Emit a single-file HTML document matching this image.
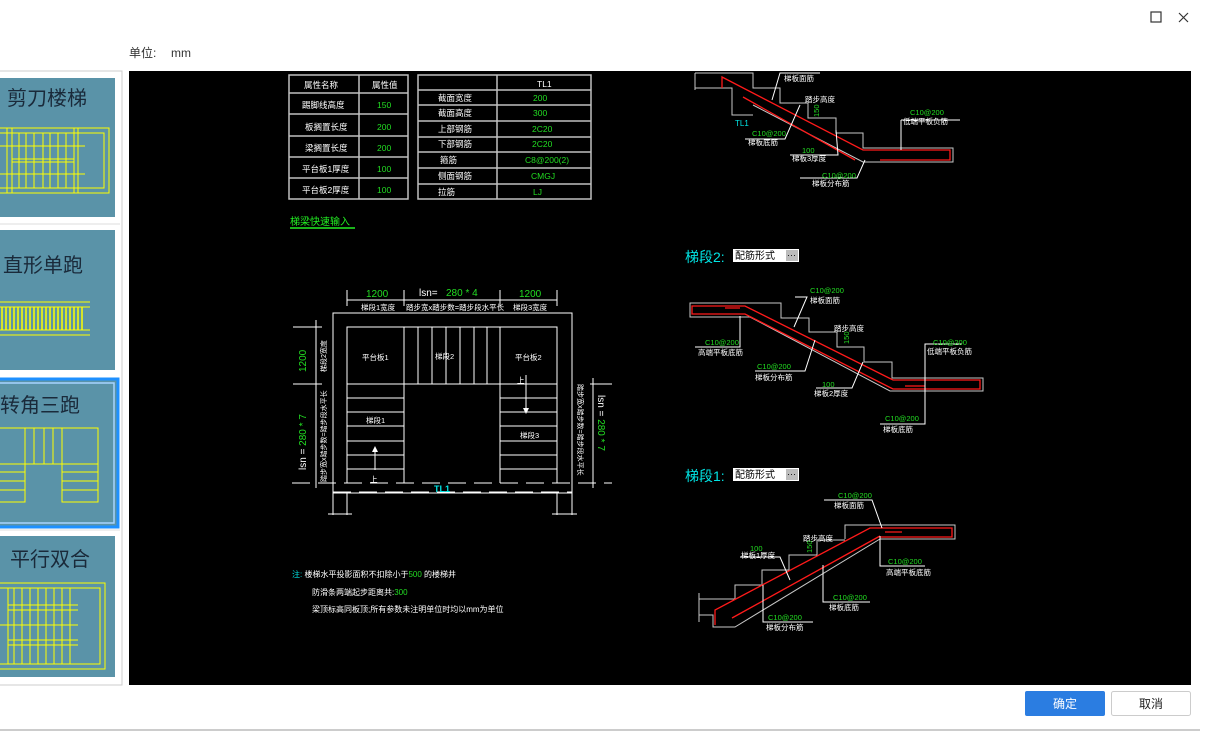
<!DOCTYPE html>
<html><head><meta charset="utf-8">
<style>
html,body{margin:0;padding:0;background:#fff;width:1207px;height:731px;overflow:hidden;font-family:"Liberation Sans","Noto Sans CJK SC",sans-serif;}
svg text{font-family:"Liberation Sans","Noto Sans CJK SC",sans-serif;}
</style></head><body>
<svg width="1207" height="731" viewBox="0 0 1207 731" xmlns="http://www.w3.org/2000/svg">
<!-- top bar -->
<rect x="1151" y="12" width="10" height="10" fill="none" stroke="#333" stroke-width="1.2"/>
<path d="M1179 13 L1188 22 M1188 13 L1179 22" stroke="#333" stroke-width="1.2"/>
<text x="129" y="57" font-size="12" fill="#333">单位:</text>
<text x="171" y="57" font-size="12" fill="#333">mm</text>

<!-- left panel -->
<rect x="-2" y="71" width="124" height="614" fill="#fff" stroke="#ccc"/>
<line x1="0" y1="224" x2="120" y2="224" stroke="#ddd"/>
<line x1="0" y1="530" x2="120" y2="530" stroke="#ddd"/>
<rect x="0" y="78" width="115" height="139" fill="#5a93a8"/>
<text x="7" y="105" font-size="20" fill="#1a2a3a">剪刀楼梯</text>
<g stroke="#ffff00" stroke-width="1" fill="none">
<rect x="-5" y="128" width="114" height="65"/><rect x="-5" y="133" width="109" height="55"/>
<line x1="7" y1="128" x2="7" y2="193"/><line x1="12" y1="128" x2="12" y2="193"/>
<line x1="74" y1="128" x2="74" y2="193"/><line x1="78" y1="128" x2="78" y2="193"/>
<line x1="12" y1="159" x2="74" y2="159"/><line x1="12" y1="162" x2="74" y2="162"/>
<path d="M19 133V188M26 133V188M34 133V188M43 133V188M50 133V188M58 133V188M66 133V188"/>
<line x1="0" y1="146" x2="85" y2="146"/><line x1="0" y1="174" x2="85" y2="174"/>
</g>
<rect x="0" y="230" width="115" height="140" fill="#5a93a8"/>
<text x="3" y="272" font-size="20" fill="#1a2a3a">直形单跑</text>
<g stroke="#ffff00" stroke-width="1"><line x1="0" y1="302" x2="90" y2="302"/><line x1="0" y1="307" x2="90" y2="307"/><line x1="0" y1="330" x2="90" y2="330"/><line x1="0" y1="335" x2="90" y2="335"/></g>
<g stroke="#ffff00" stroke-width="1.5">
<path d="M2 307V330M6 307V330M10 307V330M14 307V330M18 307V330M22 307V330M26 307V330M30 307V330M34 307V330M38 307V330M42 307V330M46 307V330M50 307V330M54 307V330M58 307V330M62 307V330M66 307V330M70 307V330M74 307V330M78 307V330M82 307V330"/></g>
<rect x="-2" y="379" width="120" height="148" fill="#5a93a8" stroke="#1e90ff" stroke-width="3"/>
<rect x="-2" y="383" width="116" height="140" fill="none" stroke="#a8d4ff" stroke-width="1.5"/>
<text x="0" y="412" font-size="20" fill="#1a2a3a">转角三跑</text>
<g stroke="#ffff00" stroke-width="1" fill="none">
<path d="M0 428H98V502H62V464H25V502H0"/>
<path d="M25 428V464M34 428V464M44 428V464M53 428V464M62 428V464"/>
<path d="M0 464H25M0 472H25M0 481H25M0 490H25M62 464H98M62 472H98M62 481H98M62 490H98"/>
</g>
<rect x="0" y="536" width="115" height="141" fill="#5a93a8"/>
<text x="10" y="566" font-size="20" fill="#1a2a3a">平行双合</text>
<g stroke="#ffff00" stroke-width="1" fill="none">
<rect x="-5" y="583" width="110" height="86"/><rect x="-5" y="588" width="105" height="76"/>
<path d="M8 588V664M14 588V664M22 588V664M30 588V664M38 588V664M46 588V664M54 588V664M62 588V664M70 588V664"/>
<path d="M8 605H78M8 610H78M8 640H78M8 645H78M0 625H78"/>
</g>

<!-- black canvas -->
<rect x="129" y="71" width="1062" height="614" fill="#000"/>

<!-- table 1 -->
<g stroke="#c0c0c0" stroke-width="1.5" fill="none">
<rect x="289" y="75" width="119" height="124"/>
<line x1="359" y1="75" x2="359" y2="199"/>
<path d="M289 93H408M289 114H408M289 136H408M289 157H408M289 178H408"/>
<rect x="418" y="75" width="173" height="124"/>
<line x1="497" y1="75" x2="497" y2="199"/>
<path d="M418 90H591M418 105H591M418 121H591M418 137H591M418 152H591M418 168H591M418 184H591"/>
</g>
<g font-size="8.5" fill="#fff">
<text x="304" y="88">属性名称</text><text x="372" y="88">属性值</text>
<text x="302" y="108">踢脚线高度</text><text x="305" y="130">板搁置长度</text><text x="305" y="151">梁搁置长度</text>
<text x="302" y="172">平台板1厚度</text><text x="302" y="193">平台板2厚度</text>
<text x="438" y="101">截面宽度</text><text x="438" y="116">截面高度</text><text x="438" y="132">上部钢筋</text>
<text x="438" y="147">下部钢筋</text><text x="440" y="163">箍筋</text><text x="438" y="179">侧面钢筋</text><text x="438" y="195">拉筋</text>
<text x="537" y="87">TL1</text>
</g>
<g font-size="8.5" fill="#22dd22">
<text x="377" y="108">150</text><text x="377" y="130">200</text><text x="377" y="151">200</text><text x="377" y="172">100</text><text x="377" y="193">100</text>
<text x="533" y="101">200</text><text x="533" y="116">300</text><text x="532" y="132">2C20</text><text x="532" y="147">2C20</text>
<text x="525" y="163">C8@200(2)</text><text x="531" y="179">CMGJ</text><text x="533" y="195">LJ</text>
</g>
<text x="290" y="225" font-size="10" fill="#22ee22">梯梁快速输入</text>
<line x1="290" y1="228" x2="355" y2="228" stroke="#22ee22" stroke-width="1.5"/>

<!-- floor plan -->
<g stroke="#fff" stroke-width="1" fill="none">
<rect x="333" y="313" width="239" height="180"/>
<path d="M347 483V327H557V483"/>
<path d="M404 327V483M500 327V483M347 384H557"/>
<path d="M418 327V384M432 327V384M446 327V384M460 327V384M474 327V384M487 327V384"/>
<path d="M347 398H404M347 412H404M347 426H404M347 441H404M347 455H404M347 469H404"/>
<path d="M500 398H557M500 412H557M500 426H557M500 441H557M500 455H557M500 469H557"/>
<path d="M292 483H612" stroke-dasharray="18 8"/>
<path d="M333 492H572" stroke-dasharray="18 8"/>
<path d="M333 493V515M347 493V515M557 493V515M572 493V515M328 514H352M552 514H577"/>
<path d="M347 300H557M347 290V306M404 290V306M500 290V306M557 290V306"/>
<path d="M293 327H322M293 384H322M316 320V488"/>
<path d="M590 384H612M593 378V488"/>
<path d="M375 470V448M526 375V412"/>
</g>
<path d="M372 452L375 446L378 452Z M523 408L526 414L529 408Z" fill="#fff"/>
<g font-size="10" fill="#22dd22">
<text x="366" y="297">1200</text><text x="519" y="297">1200</text><text x="446" y="296">280 * 4</text>
</g>
<text x="419" y="296" font-size="10" fill="#fff">lsn=</text>
<g font-size="7.5" fill="#fff">
<text x="361" y="310">梯段1宽度</text><text x="406" y="310">踏步宽x踏步数=踏步段水平长</text><text x="513" y="310">梯段3宽度</text>
<text x="362" y="360">平台板1</text><text x="435" y="359">梯段2</text><text x="515" y="360">平台板2</text>
<text x="366" y="423">梯段1</text><text x="520" y="438">梯段3</text>
<text x="517" y="383">上</text><text x="370" y="482">上</text>
</g>
<text x="434" y="492" font-size="9" fill="#00e5e5" font-weight="bold">TL1</text>
<g transform="translate(306,372) rotate(-90)"><text font-size="10" fill="#22dd22">1200</text></g>
<g transform="translate(306,470) rotate(-90)"><text font-size="10" fill="#22dd22"><tspan fill="#fff">lsn = </tspan>280 * 7</text></g>
<g transform="translate(326,372) rotate(-90)"><text font-size="7" fill="#fff">梯段2宽度</text></g>
<g transform="translate(326,482) rotate(-90)"><text font-size="7" fill="#fff">踏步宽x踏步数=踏步段水平长</text></g>
<g transform="translate(598,395) rotate(90)"><text font-size="10" fill="#22dd22"><tspan fill="#fff">lsn = </tspan>280 * 7</text></g>
<g transform="translate(578,384) rotate(90)"><text font-size="7" fill="#fff">踏步宽x踏步数=踏步段水平长</text></g>

<!-- notes -->
<g font-size="8" fill="#fff">
<text x="292" y="577"><tspan fill="#00e5e5">注:</tspan> 楼梯水平投影面积不扣除小于<tspan fill="#22dd22">500</tspan> 的楼梯井</text>
<text x="312" y="595">防滑条两端起步距离共:<tspan fill="#22dd22">300</tspan></text>
<text x="312" y="612">梁顶标高同板顶;所有参数未注明单位时均以mm为单位</text>
</g>

<!-- diagram TL top -->
<g stroke="#c8c8c8" stroke-width="1" fill="none">
<path d="M695 73H753V88H780V103H808V118H836V133H863V148H953V162H863L753 105"/>
<path d="M695 88H732V115H753M695 73V90"/>
</g>
<g stroke="#ff1a1a" stroke-width="1.3" fill="none">
<path d="M722 88V77L863 150H950V160H880"/>
<path d="M743 97L855 160"/>
</g>
<g stroke="#fff" stroke-width="1" fill="none">
<path d="M772 100L780 73H820M745 139H785L800 105M790 155L838 155L836 130M800 178H857L865 160M901 120V150M901 120H960"/>
</g>
<g font-size="7.5" fill="#fff">
<text x="784" y="81">梯板面筋</text><text x="805" y="102">踏步高度</text><text x="748" y="145">梯板底筋</text><text x="792" y="161">梯板3厚度</text><text x="812" y="186">梯板分布筋</text><text x="903" y="124">低端平板负筋</text>
</g>
<g font-size="7.5" fill="#22dd22">
<text x="752" y="136">C10@200</text><text x="802" y="153">100</text><text x="822" y="178">C10@200</text><text x="910" y="115">C10@200</text>
</g>
<g transform="translate(819,117) rotate(-90)"><text font-size="7.5" fill="#22dd22">150</text></g>
<text x="735" y="126" font-size="8" fill="#00e5e5">TL1</text>

<!-- 梯段2 label -->
<text x="685" y="262" font-size="14" fill="#00e5e5">梯段2:</text>
<rect x="733" y="249" width="66" height="13" fill="#fff"/>
<rect x="786" y="250" width="12" height="11" fill="#bbb"/>
<text x="735" y="259" font-size="10" fill="#000">配筋形式</text>
<text x="787" y="258" font-size="9" fill="#000">···</text>

<!-- diagram 2 -->
<g stroke="#c8c8c8" stroke-width="1" fill="none">
<path d="M690 303H781V318H809V332H837V347H864V362H892V378H983V391H890L750 317H690Z"/>
</g>
<g stroke="#ff1a1a" stroke-width="1.3" fill="none">
<path d="M692 306H745L893 380H980V389H893L745 314H692Z"/>
<path d="M725 308H740M905 386H925"/>
</g>
<g stroke="#fff" stroke-width="1" fill="none">
<path d="M795 297H807L794 327M740 316V347H695M755 371H805L815 340M816 388H852L863 362M925 347V344H962M925 347V420M880 424H925V380"/>
</g>
<g font-size="7.5" fill="#fff">
<text x="810" y="303">梯板面筋</text><text x="834" y="331">踏步高度</text><text x="698" y="355">高端平板底筋</text><text x="755" y="380">梯板分布筋</text><text x="814" y="396">梯板2厚度</text><text x="927" y="354">低端平板负筋</text><text x="883" y="432">梯板底筋</text>
</g>
<g font-size="7.5" fill="#22dd22">
<text x="810" y="293">C10@200</text><text x="705" y="345">C10@200</text><text x="757" y="369">C10@200</text><text x="822" y="387">100</text><text x="933" y="345">C10@200</text><text x="885" y="421">C10@200</text>
</g>
<g transform="translate(849,344) rotate(-90)"><text font-size="7.5" fill="#22dd22">150</text></g>

<!-- 梯段1 label -->
<text x="685" y="481" font-size="14" fill="#00e5e5">梯段1:</text>
<rect x="733" y="468" width="66" height="13" fill="#fff"/>
<rect x="786" y="469" width="12" height="11" fill="#bbb"/>
<text x="735" y="478" font-size="10" fill="#000">配筋形式</text>
<text x="787" y="477" font-size="9" fill="#000">···</text>

<!-- diagram 3 -->
<g stroke="#c8c8c8" stroke-width="1" fill="none">
<path d="M845 539V525H955V539H880L735 627H713V615H699"/>
<path d="M845 540H817V555H789V570H762V585H735V599H699M699 593V622"/>
</g>
<g stroke="#ff1a1a" stroke-width="1.3" fill="none">
<path d="M715 625V610L870 528H952V537H880"/>
<path d="M732 618L880 536M885 532H902"/>
</g>
<g stroke="#fff" stroke-width="1" fill="none">
<path d="M824 500H872L882 528M740 557H780L790 580M880 536V566H925M823 565V602H870M763 585V622H813"/>
</g>
<g font-size="7.5" fill="#fff">
<text x="834" y="508">梯板面筋</text><text x="803" y="541">踏步高度</text><text x="741" y="558">梯板1厚度</text><text x="886" y="575">高端平板底筋</text><text x="829" y="610">梯板底筋</text><text x="766" y="630">梯板分布筋</text>
</g>
<g font-size="7.5" fill="#22dd22">
<text x="838" y="498">C10@200</text><text x="750" y="551">100</text><text x="888" y="564">C10@200</text><text x="833" y="600">C10@200</text><text x="768" y="620">C10@200</text>
</g>
<g transform="translate(812,553) rotate(-90)"><text font-size="7.5" fill="#22dd22">150</text></g>

<!-- buttons -->
<rect x="1025" y="691" width="80" height="25" rx="2" fill="#2b7de1"/>
<text x="1065" y="708" font-size="12" fill="#fff" text-anchor="middle">确定</text>
<rect x="1111.5" y="691.5" width="79" height="24" rx="2" fill="#fff" stroke="#ccc"/>
<text x="1151" y="708" font-size="12" fill="#222" text-anchor="middle">取消</text>
<line x1="0" y1="730" x2="1200" y2="730" stroke="#999"/>
</svg>
</body></html>
